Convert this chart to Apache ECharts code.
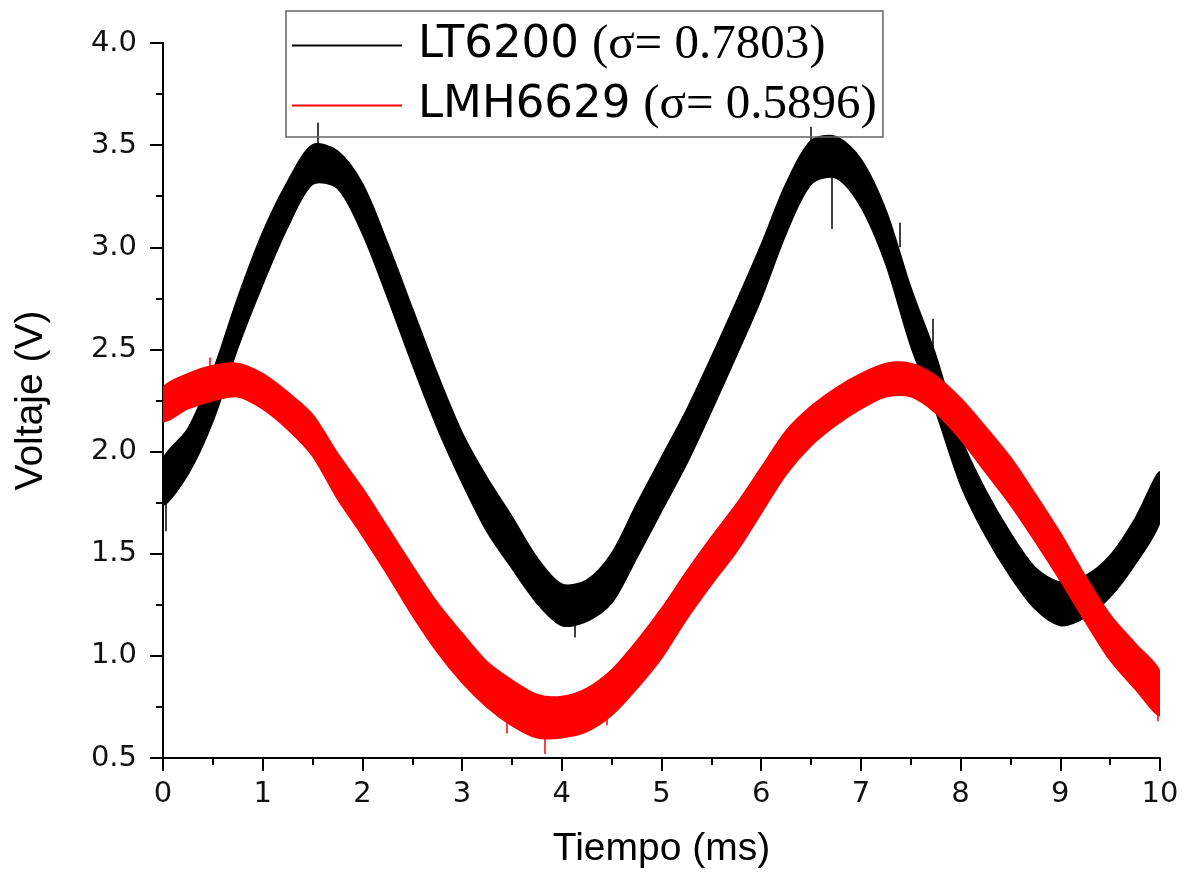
<!DOCTYPE html>
<html>
<head>
<meta charset="utf-8">
<script src="https://cdn.jsdelivr.net/npm/echarts@6/dist/echarts.min.js"></script>
<style>
  html, body { margin: 0; padding: 0; background: #fff; }
  #chart { width: 1185px; height: 874px; }
</style>
</head>
<body>
<div id="chart"></div>
<script>
// time axis (ms), sampled every 0.25 ms
const timeMs = [0, 0.25, 0.5, 0.75, 1, 1.25, 1.5, 1.75, 2, 2.25, 2.5, 2.75, 3, 3.25, 3.5, 3.75, 4, 4.25, 4.5, 4.75,
    5, 5.25, 5.5, 5.75, 6, 6.25, 6.5, 6.75, 7, 7.25, 7.5, 7.75, 8, 8.25, 8.5, 8.75, 9, 9.25, 9.5, 9.75, 10];

// noisy traces read as lower / upper edge of the band
const lt6200Low = [1.74, 1.89, 2.15, 2.51, 2.82, 3.10, 3.31, 3.29, 3.07, 2.76, 2.43, 2.12, 1.85, 1.61, 1.43, 1.26, 1.15, 1.17, 1.26, 1.48,
    1.71, 1.94, 2.20, 2.47, 2.75, 3.07, 3.31, 3.34, 3.20, 2.92, 2.52, 2.20, 1.84, 1.59, 1.39, 1.23, 1.15, 1.19, 1.29, 1.45, 1.66];
const lt6200High = [1.96, 2.11, 2.39, 2.75, 3.07, 3.32, 3.50, 3.47, 3.31, 3.02, 2.70, 2.38, 2.09, 1.87, 1.68, 1.48, 1.35, 1.37, 1.50, 1.74,
    1.97, 2.20, 2.46, 2.73, 3.01, 3.31, 3.52, 3.54, 3.43, 3.18, 2.80, 2.47, 2.07, 1.81, 1.60, 1.43, 1.36, 1.39, 1.49, 1.67, 1.90];

const lmh6629Low = [2.15, 2.21, 2.25, 2.27, 2.21, 2.11, 1.98, 1.77, 1.59, 1.40, 1.20, 1.02, 0.87, 0.75, 0.66, 0.60, 0.60, 0.63, 0.71, 0.84,
    0.99, 1.18, 1.35, 1.51, 1.70, 1.89, 2.03, 2.13, 2.21, 2.27, 2.27, 2.19, 2.06, 1.90, 1.74, 1.56, 1.37, 1.17, 0.98, 0.84, 0.71];
const lmh6629High = [2.31, 2.38, 2.42, 2.43, 2.38, 2.29, 2.18, 1.99, 1.82, 1.63, 1.44, 1.26, 1.11, 0.97, 0.88, 0.81, 0.80, 0.84, 0.93, 1.07,
    1.23, 1.41, 1.58, 1.74, 1.92, 2.10, 2.22, 2.31, 2.38, 2.43, 2.43, 2.37, 2.26, 2.12, 1.97, 1.79, 1.60, 1.39, 1.20, 1.06, 0.92];

// isolated spikes: [time, from, to]
const lt6200Spikes = [[0.03, 1.75, 1.61], [1.55, 3.45, 3.61], [2.35, 2.85, 2.70], [4.13, 1.20, 1.09], [5.89, 2.75, 2.69],
    [6.50, 3.45, 3.59], [6.71, 3.40, 3.09], [7.39, 3.00, 3.12], [7.72, 2.50, 2.65]];
const lmh6629Spikes = [[3.83, 0.65, 0.52], [0.47, 2.38, 2.46], [9.98, 0.75, 0.68], [3.45, 0.70, 0.62], [4.45, 0.75, 0.66]];

const seriesNames = ['LT6200', 'LMH6629'];
const sigmaValues = ['0.7803', '0.5896'];
const xTicks = { min: 0, max: 10, interval: 1 };
const yTicks = { min: 0.5, max: 4.0, interval: 0.5 };

// filled band between the low and high edges, placed with the grid's own scales
function bandSeries(name, color, low, high) {
    return {
        name: name,
        type: 'custom',
        coordinateSystem: 'cartesian2d',
        clip: true,
        itemStyle: { color: color },
        data: [[timeMs[0], low[0]]],
        renderItem: function(params, api) {
            const top = timeMs.map((t, i) => api.coord([t, high[i]]));
            const bottom = timeMs.map((t, i) => api.coord([t, low[i]])).reverse();
            return {
                type: 'polygon',
                shape: { points: top.concat(bottom), smooth: 0.3 },
                style: { fill: color, stroke: color, lineWidth: 2 }
            };
        }
    };
}

function spikeSeries(color, spikes) {
    return {
        type: 'lines',
        coordinateSystem: 'cartesian2d',
        silent: true,
        lineStyle: { color: color, width: 1.5, opacity: 1 },
        data: spikes.map(s => ({ coords: [[s[0], s[1]], [s[0], s[2]]] }))
    };
}

const chart = echarts.init(document.getElementById('chart'));

const axisStyle = { color: '#000', width: 2 };

const option = {
    animation: false,
    backgroundColor: '#fff',
    grid: { left: 163, right: 25, top: 43, bottom: 114 },
    legend: {
        data: seriesNames,
        orient: 'vertical',
        left: 286,
        top: 11,
        icon: 'rect',
        itemWidth: 110,
        itemHeight: 2,
        itemGap: 11,
        padding: [10, 6, 7, 6],
        borderColor: '#666',
        borderWidth: 1.5,
        formatter: function(name) {
            const i = seriesNames.indexOf(name);
            return '{a|' + name + '}{b|(σ= ' + sigmaValues[i] + ')}';
        },
        textStyle: {
            color: '#000',
            rich: {
                a: { fontFamily: 'DejaVu Sans', fontSize: 45, lineHeight: 48, padding: [0, 13, 0, 11], color: '#000' },
                b: { fontFamily: 'Liberation Serif', fontSize: 49, lineHeight: 48, color: '#000' }
            }
        }
    },
    xAxis: {
        type: 'value',
        min: xTicks.min,
        max: xTicks.max,
        interval: xTicks.interval,
        name: 'Tiempo (ms)',
        nameLocation: 'middle',
        nameGap: 72,
        nameTextStyle: { fontFamily: 'Liberation Sans', fontSize: 39, color: '#000' },
        axisLine: { lineStyle: axisStyle },
        axisTick: { length: 13, lineStyle: axisStyle },
        minorTick: { show: true, splitNumber: 2, length: 7, lineStyle: axisStyle },
        splitLine: { show: false },
        axisLabel: { fontFamily: 'DejaVu Sans', fontSize: 29, color: '#111', margin: 22 }
    },
    yAxis: {
        type: 'value',
        min: yTicks.min,
        max: yTicks.max,
        interval: yTicks.interval,
        name: 'Voltaje (V)',
        nameLocation: 'middle',
        nameRotate: 90,
        nameGap: 112,
        nameTextStyle: { fontFamily: 'Liberation Sans', fontSize: 39, color: '#000' },
        axisLine: { show: true, lineStyle: axisStyle },
        axisTick: { show: true, length: 13, lineStyle: axisStyle },
        minorTick: { show: true, splitNumber: 2, length: 7, lineStyle: axisStyle },
        splitLine: { show: false },
        axisLabel: {
            fontFamily: 'DejaVu Sans',
            fontSize: 29,
            color: '#111',
            margin: 26,
            formatter: v => v.toFixed(1)
        }
    },
    series: [
        bandSeries(seriesNames[0], '#000000', lt6200Low, lt6200High),
        spikeSeries('#000000', lt6200Spikes),
        bandSeries(seriesNames[1], '#ff0000', lmh6629Low, lmh6629High),
        spikeSeries('#ff0000', lmh6629Spikes)
    ]
};

chart.setOption(option);
</script>
</body>
</html>
